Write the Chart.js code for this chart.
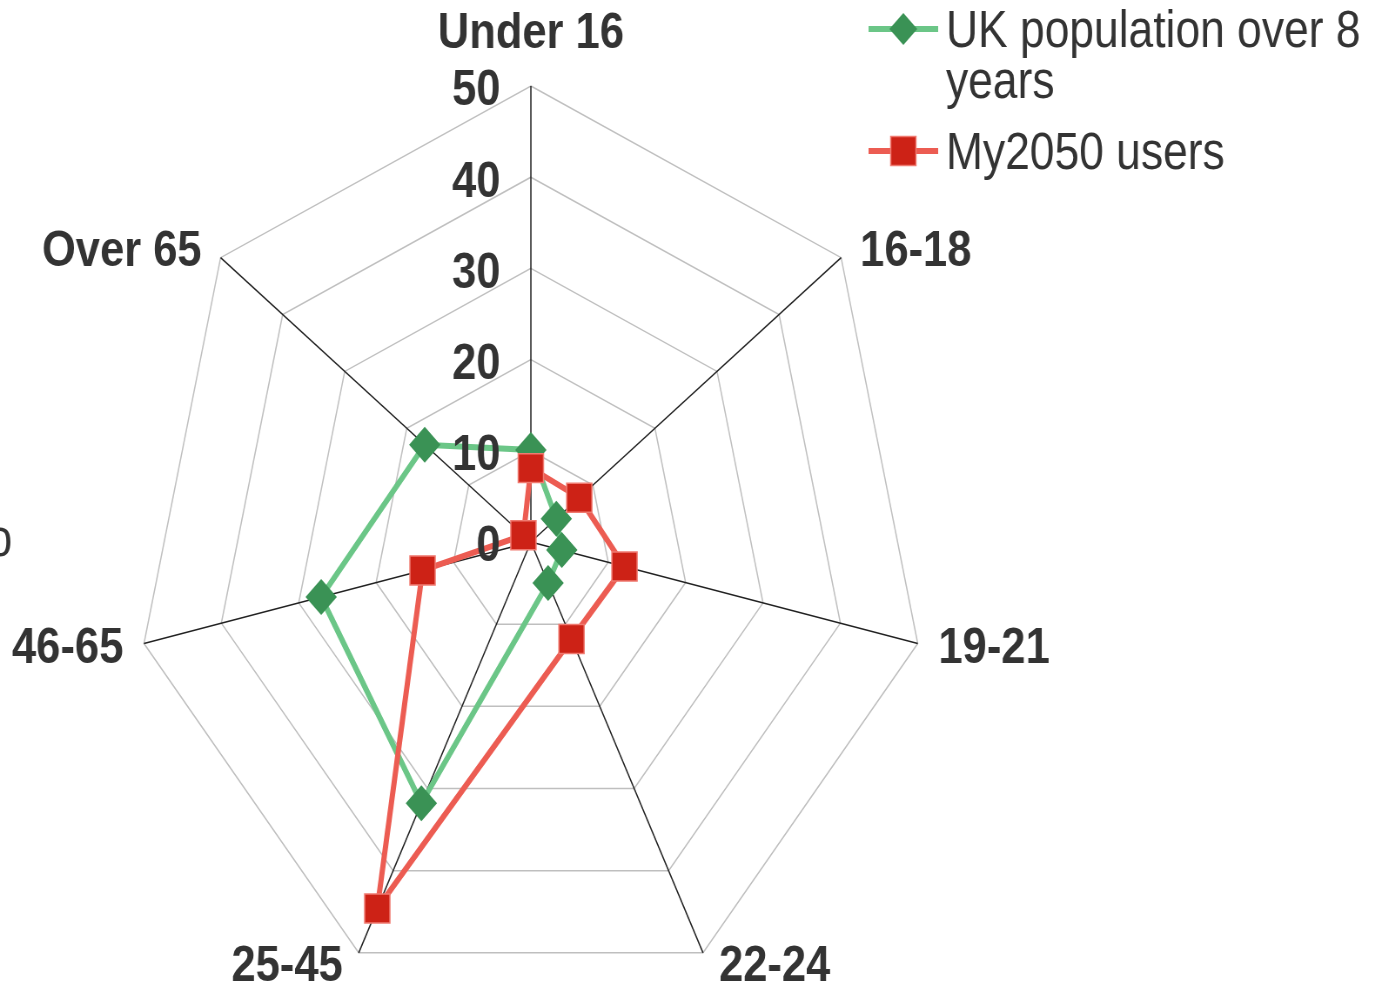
<!DOCTYPE html>
<html>
<head>
<meta charset="utf-8">
<title>Age profile: UK population vs My2050 users</title>
<script src="https://cdn.jsdelivr.net/npm/chart.js@4/dist/chart.umd.min.js"></script>
<style>
  html, body { margin: 0; padding: 0; background: #ffffff; overflow: hidden; }
  #wrap { position: relative; width: 1375px; height: 983px; overflow: hidden; }
  /* the radar is laid out on a wider canvas and narrowed horizontally */
  #chart { position: absolute; left: 0; top: 0; transform-origin: 0 0; transform: scaleX(0.870253); }
</style>
</head>
<body>
<div id="wrap"><canvas id="chart" width="1580" height="1100"></canvas></div>
<script>
// ---- data -------------------------------------------------------------
const categories   = ['Under 16', '16-18', '19-21', '22-24', '25-45', '46-65', 'Over 65'];
const ukPopulation = [10.1, 4.1, 4.0, 5.0, 31.8, 27.1, 17.1];
const my2050Users  = [8.1, 7.8, 12.1, 11.8, 44.6, 14.0, 1.2];
const tickValues   = [0, 10, 20, 30, 40, 50];
const seriesNames  = ['UK population over 8 years', 'My2050 users'];
const edgeNote     = 'o';

// ---- look -------------------------------------------------------------
const FONT_FAMILY = '"Liberation Sans", Arial, sans-serif';
const TEXT_COLOR = '#333333';
const LABEL_SIZE = 50;
const CAP_HALF = 0.358 * LABEL_SIZE;   // half the cap height, for centring on a point

// scale tick values and category names, placed around the radar
const radarText = {
  id: 'radarText',
  afterDatasetsDraw(chart) {
    const r = chart.scales.r;
    const ctx = chart.ctx;
    ctx.save();
    ctx.fillStyle = TEXT_COLOR;
    ctx.font = 'bold ' + LABEL_SIZE + 'px ' + FONT_FAMILY;
    ctx.textBaseline = 'alphabetic';

    // values, right-aligned beside the vertical axis
    ctx.textAlign = 'right';
    tickValues.forEach(v => {
      const y = r.yCenter - r.getDistanceFromCenterForValue(v);
      ctx.fillText(String(v), r.xCenter - 35, y + CAP_HALF + 1.5);
    });

    // category names just outside the outer ring
    categories.forEach((label, i) => {
      const p = r.getPointPosition(i, r.drawingArea);
      const a = r.getIndexAngle(i);
      const s = Math.sin(a), c = Math.cos(a);
      if (Math.abs(s) < 0.1) {
        ctx.textAlign = 'center';
        ctx.fillText(label, p.x, p.y - 38);
      } else {
        ctx.textAlign = s > 0 ? 'left' : 'right';
        const gap = 14 + 10 * Math.abs(s);
        ctx.fillText(label, p.x + Math.sign(s) * gap, p.y + CAP_HALF - 1 - 13 * c);
      }
    });

    // stray note running off the left edge
    ctx.font = '51px ' + FONT_FAMILY;
    ctx.textAlign = 'right';
    ctx.fillText(edgeNote, 14, r.yCenter + 14);
    ctx.restore();
  }
};

function wrapWords(ctx, text, maxWidth) {
  const words = text.split(' ');
  const lines = [];
  let cur = '';
  words.forEach(w => {
    const test = cur ? cur + ' ' + w : w;
    if (cur && ctx.measureText(test).width > maxWidth) { lines.push(cur); cur = w; }
    else { cur = test; }
  });
  if (cur) lines.push(cur);
  return lines;
}

function drawMarker(ctx, style, radius, x, y, fill, stroke, strokeWidth) {
  ctx.save();
  ctx.fillStyle = fill;
  ctx.strokeStyle = stroke;
  ctx.lineWidth = strokeWidth;
  if (Chart.helpers && Chart.helpers.drawPoint) {
    Chart.helpers.drawPoint(ctx, { pointStyle: style, radius: radius, rotation: 0, borderWidth: strokeWidth }, x, y);
  } else {
    ctx.beginPath();
    if (style === 'rectRot') {
      ctx.moveTo(x - radius, y); ctx.lineTo(x, y - radius);
      ctx.lineTo(x + radius, y); ctx.lineTo(x, y + radius);
      ctx.closePath();
    } else {
      const h = Math.SQRT1_2 * radius;
      ctx.rect(x - h, y - h, 2 * h, 2 * h);
    }
    ctx.fill();
    if (strokeWidth > 0) ctx.stroke();
  }
  ctx.restore();
}

// legend in the top-right corner: line with marker, wrapped series name
const cornerLegend = {
  id: 'cornerLegend',
  afterDraw(chart) {
    const ctx = chart.ctx;
    const symLeft = 998, symWidth = 80, textX = 1087;
    const lineStep = 51, itemStep = 71;
    const legendRadius = { rectRot: 16, rect: 20.5 };
    let baseline = 47;
    ctx.save();
    ctx.font = '51px ' + FONT_FAMILY;
    ctx.textAlign = 'left';
    ctx.textBaseline = 'alphabetic';
    chart.data.datasets.forEach(ds => {
      const lines = wrapWords(ctx, ds.label, chart.width - textX - 10);
      const midY = baseline - 18;
      ctx.strokeStyle = ds.borderColor;
      ctx.lineWidth = ds.borderWidth;
      ctx.beginPath();
      ctx.moveTo(symLeft, midY);
      ctx.lineTo(symLeft + symWidth, midY);
      ctx.stroke();
      drawMarker(ctx, ds.pointStyle, legendRadius[ds.pointStyle], symLeft + symWidth / 2, midY,
                 ds.pointBackgroundColor, ds.pointBorderColor, ds.pointBorderWidth);
      ctx.fillStyle = TEXT_COLOR;
      lines.forEach((t, k) => ctx.fillText(t, textX, baseline + k * lineStep));
      baseline += (lines.length - 1) * lineStep + itemStep;
    });
    ctx.restore();
  }
};

Chart.defaults.font.family = FONT_FAMILY;

const canvas = document.getElementById('chart');
new Chart(canvas.getContext('2d'), {
  type: 'radar',
  data: {
    labels: categories,
    datasets: [
      {
        label: seriesNames[0],
        data: ukPopulation,
        order: 2,
        borderColor: '#6bc687',
        borderWidth: 6,
        fill: false,
        pointStyle: 'rectRot',
        pointRadius: 18,
        pointBackgroundColor: '#3a9255',
        pointBorderColor: '#3a9255',
        pointBorderWidth: 0
      },
      {
        label: seriesNames[1],
        data: my2050Users,
        order: 1,
        borderColor: '#ec5c52',
        borderWidth: 6,
        fill: false,
        pointStyle: 'rect',
        pointRadius: 20.5,
        pointBackgroundColor: '#cd2216',
        pointBorderColor: '#f07a70',
        pointBorderWidth: 1.5
      }
    ]
  },
  options: {
    responsive: false,
    animation: false,
    devicePixelRatio: 1,
    layout: { padding: { left: 154, right: 513, top: 86, bottom: 101 } },
    elements: { line: { tension: 0 } },
    plugins: {
      legend: { display: false },
      tooltip: { enabled: false }
    },
    scales: {
      r: {
        min: 0,
        max: 50,
        ticks: { stepSize: 10, display: false },
        grid: { color: '#bfbfbf', lineWidth: 1.5 },
        angleLines: { color: '#222222', lineWidth: 1.5 },
        pointLabels: { display: false }
      }
    }
  },
  plugins: [radarText, cornerLegend]
});
</script>
</body>
</html>
